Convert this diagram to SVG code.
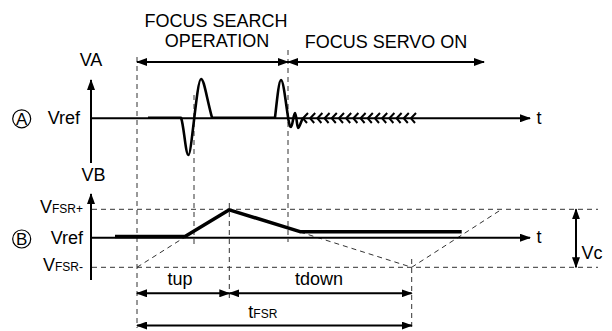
<svg xmlns="http://www.w3.org/2000/svg" width="612" height="331" viewBox="0 0 612 331">
<defs>
<marker id="ah" viewBox="0 0 11 8" refX="10" refY="4" markerWidth="11" markerHeight="8" markerUnits="userSpaceOnUse" orient="auto-start-reverse">
<path d="M0,0 L11,4 L0,8 z" fill="#000"/>
</marker>
<style>
.t{font-family:"Liberation Sans",Arial,sans-serif;font-size:18px;fill:#000}
.s{font-size:12px}
.dash{stroke:#333;stroke-width:1;stroke-dasharray:5,4;fill:none}
.ax{stroke:#000;stroke-width:2;fill:none}
.arr{stroke:#000;stroke-width:2;fill:none;marker-start:url(#ah);marker-end:url(#ah)}
.sig{stroke:#000;fill:none;stroke-linejoin:round}
.circ{stroke:#000;stroke-width:1.2;fill:none}
</style>
</defs>
<rect width="612" height="331" fill="#fff"/>

<g id="guides">
<line class="dash" x1="137" y1="57" x2="137" y2="328"/>
<line class="dash" x1="194" y1="95" x2="194" y2="247"/>
<line class="dash" x1="288" y1="50" x2="288" y2="242"/>
<line class="dash" x1="229.3" y1="203" x2="229.3" y2="300"/>
<line class="dash" x1="411.7" y1="259" x2="411.7" y2="328"/>
<line class="dash" x1="92" y1="209.3" x2="598" y2="209.3"/>
<line class="dash" x1="92" y1="267.3" x2="598" y2="267.3"/>
<line class="dash" x1="137" y1="267.3" x2="185" y2="237"/>
<line class="dash" x1="300" y1="232" x2="411.7" y2="267.3"/>
<line class="dash" x1="411.7" y1="267.3" x2="501.7" y2="209.3"/>
</g>

<g id="axisA">
<line class="ax" x1="91" y1="163" x2="91" y2="80" marker-end="url(#ah)"/>
<line class="ax" x1="91" y1="118.3" x2="530" y2="118.3" marker-end="url(#ah)"/>
</g>
<g id="axisB">
<line class="ax" x1="91" y1="280" x2="91" y2="194" marker-end="url(#ah)"/>
<line class="ax" x1="91" y1="237.7" x2="530" y2="237.7" marker-end="url(#ah)"/>
</g>

<g id="connectors">
<line class="arr" x1="137" y1="62" x2="288" y2="62"/>
<line class="arr" x1="288" y1="62" x2="484" y2="62"/>
<line class="arr" x1="137" y1="293.3" x2="229.3" y2="293.3"/>
<line class="arr" x1="229.3" y1="293.3" x2="411.7" y2="293.3"/>
<line class="arr" x1="137" y1="325.5" x2="411.7" y2="325.5"/>
<line class="arr" x1="576" y1="209.3" x2="576" y2="267.3"/>
</g>

<g id="signalA">
<path class="sig" stroke-width="2.6" d="M148,117.7 H181 C184,125 185.5,155 188.5,155 C191.5,155 197,79 201,79 C204,79 206,95 212,117.7 H275 C277,100 279,80 281,80 C283.5,80 286,105 288.5,120 C289.5,125 290,127 291,127 C292.5,127 293.5,113 295,113 C296.5,113 297,128 298,128 C299.5,128 301,121 303,118"/>
<path class="sig" stroke-width="2" d="M308,113 L303,118.3 L307,123 M315.2,113 L310.2,118.3 L314.2,123 M322.4,113 L317.4,118.3 L321.4,123 M329.6,113 L324.6,118.3 L328.6,123 M336.8,113 L331.8,118.3 L335.8,123 M344,113 L339,118.3 L343,123 M351.2,113 L346.2,118.3 L350.2,123 M358.4,113 L353.4,118.3 L357.4,123 M365.6,113 L360.6,118.3 L364.6,123 M372.8,113 L367.8,118.3 L371.8,123 M380,113 L375,118.3 L379,123 M387.2,113 L382.2,118.3 L386.2,123 M394.4,113 L389.4,118.3 L393.4,123 M401.6,113 L396.6,118.3 L400.6,123 M408.8,113 L403.8,118.3 L407.8,123 M416,113 L411,118.3 L415,123"/>
</g>

<g id="signalB">
<path class="sig" stroke-width="3.5" stroke-linejoin="miter" d="M115,236.5 H185 L229.3,209.8 L300,231.7 H461.7"/>
</g>

<g id="labelsTop">
<text class="t" x="216" y="27" text-anchor="middle">FOCUS SEARCH</text>
<text class="t" x="217" y="47" text-anchor="middle">OPERATION</text>
<text class="t" x="386" y="48" text-anchor="middle">FOCUS SERVO ON</text>
</g>

<g id="nodeA">
<circle class="circ" cx="21.7" cy="118.8" r="9"/>
<text class="t" x="21.7" y="124.8" text-anchor="middle" style="font-size:17px">A</text>
<text class="t" x="91" y="66" text-anchor="middle">VA</text>
<text class="t" x="80" y="124.3" text-anchor="end">Vref</text>
<text class="t" x="536.5" y="123.5">t</text>
</g>

<g id="nodeB">
<circle class="circ" cx="21.7" cy="239" r="9"/>
<text class="t" x="21.7" y="245" text-anchor="middle" style="font-size:17px">B</text>
<text class="t" x="93.5" y="181" text-anchor="middle">VB</text>
<text class="t" x="83" y="213" text-anchor="end">V<tspan class="s">FSR+</tspan></text>
<text class="t" x="83" y="243.5" text-anchor="end">Vref</text>
<text class="t" x="83" y="271" text-anchor="end">V<tspan class="s">FSR-</tspan></text>
<text class="t" x="536.5" y="243">t</text>
</g>

<g id="labelsBottom">
<text class="t" x="180" y="285" text-anchor="middle">tup</text>
<text class="t" x="319" y="284.5" text-anchor="middle">tdown</text>
<text class="t" x="248.3" y="318">t<tspan class="s">FSR</tspan></text>
<text class="t" x="581.5" y="258.5">Vc</text>
</g>
</svg>
